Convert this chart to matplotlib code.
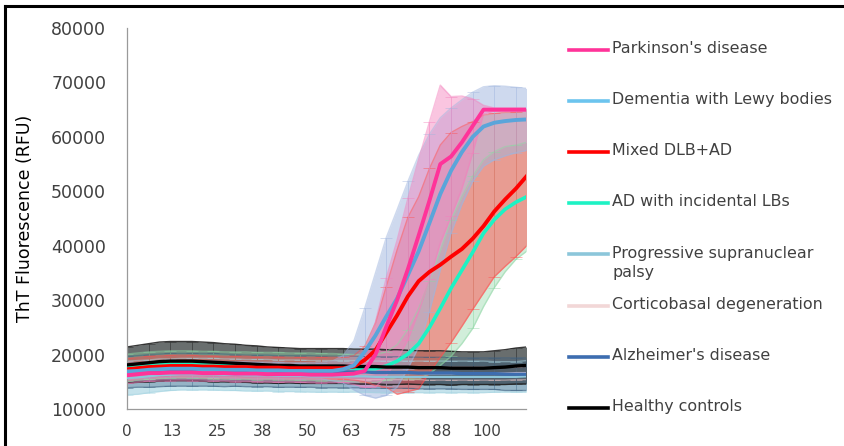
import matplotlib
matplotlib.use("Agg")
import matplotlib.pyplot as plt
from matplotlib.lines import Line2D
import numpy as np

# time grid (every 3 units) shared by all series
time_pts = list(range(0, 112, 3))

pd_mean = [16200, 16400, 16600, 16600, 16700, 16700, 16700, 16600, 16600, 16600, 16500, 16500,
           16500, 16400, 16400, 16400, 16400, 16300, 16300, 16300, 16400, 16500, 17000, 20000,
           25100, 30000, 35700, 41900, 48300, 55000, 56400, 59000, 62000, 65000, 65000, 65000,
           65000, 65000]
pd_sd = [1500, 1500, 1500, 1500, 1500, 1500, 1500, 1500, 1500, 1500, 1500, 1500,
         1500, 1500, 1500, 1500, 1500, 1500, 1500, 1500, 1500, 2000, 3000, 6000,
         9000, 11000, 13000, 14000, 14500, 14500, 11000, 8500, 5000, 800, 300, 300,
         300, 300]

dlb_mean = [16900, 17000, 17200, 17300, 17400, 17400, 17400, 17300, 17300, 17200, 17200, 17200,
            17100, 17100, 17100, 17000, 17000, 17000, 17000, 17000, 17300, 18000, 20500, 23500,
            27000, 30300, 34600, 39000, 44200, 49500, 53800, 57200, 60000, 61900, 62600, 62900,
            63100, 63200]
dlb_sd = [1500, 1500, 1500, 1500, 1500, 1500, 1500, 1500, 1500, 1500, 1500, 1500,
          1500, 1500, 1500, 1500, 1500, 1500, 1500, 1800, 2500, 4500, 8000, 11500,
          14500, 16300, 17200, 17600, 16300, 14000, 11500, 9600, 8200, 7300, 6800, 6400,
          6000, 5700]

mix_mean = [17300, 17500, 17700, 17800, 17900, 17900, 17900, 17800, 17800, 17700, 17700, 17700,
            17600, 17600, 17600, 17500, 17500, 17500, 17500, 17500, 17500, 17800, 19000, 20800,
            24000, 27200, 30700, 33500, 35200, 36500, 38000, 39400, 41300, 43600, 46300, 48500,
            50500, 52800]
mix_err_up = [2000, 2000, 2000, 2000, 2000, 2000, 2000, 2000, 2000, 2000, 2000, 2000,
              2000, 2000, 2000, 2000, 2000, 2000, 2000, 2000, 2000, 2000, 2500, 5000,
              8500, 12000, 14500, 15500, 19000, 22000, 22800, 22500, 21500, 20400, 18000, 16000,
              14000, 12400]
mix_err_down = [2000, 2000, 2000, 2000, 2000, 2000, 2000, 2000, 2000, 2000, 2000, 2000,
                2000, 2000, 2000, 2000, 2000, 2000, 2000, 2000, 2000, 2500, 4000, 6500,
                10000, 14500, 17500, 19800, 18500, 17000, 15800, 14200, 13000, 12300, 12000, 12300,
                12500, 12800]

adlb_mean = [17600, 17800, 18000, 18100, 18200, 18200, 18200, 18100, 18100, 18000, 18000, 18000,
             17900, 17900, 17900, 17800, 17800, 17800, 17700, 17700, 17600, 17500, 17400, 17400,
             17900, 18800, 20100, 22000, 25000, 28500, 32200, 35500, 38800, 42300, 44800, 46700,
             48000, 49000]
adlb_sd = [2500, 2500, 2500, 2500, 2500, 2500, 2500, 2500, 2500, 2500, 2500, 2500,
           2500, 2500, 2500, 2500, 2500, 2500, 2500, 2500, 2500, 2500, 2500, 2500,
           2600, 3000, 4500, 6500, 8500, 10500, 12500, 13500, 14000, 13500, 12500, 11500,
           10500, 10000]

psp_mean = [15700, 15800, 16000, 16200, 16300, 16400, 16400, 16400, 16400, 16300, 16300, 16200,
            16200, 16200, 16100, 16100, 16100, 16000, 16000, 16000, 16000, 16000, 16000, 15900,
            15900, 15900, 15900, 15900, 15900, 15900, 15900, 15900, 15900, 15900, 15900, 15900,
            15900, 16000]
psp_sd = [3100, 3100, 3000, 3000, 2900, 2900, 2900, 2900, 2900, 2900, 2900, 2900,
          2900, 2900, 2900, 2900, 2900, 2900, 2900, 2900, 2900, 2900, 2900, 2900,
          2900, 2900, 2900, 2900, 2900, 2900, 2900, 2900, 2900, 2900, 2800, 2800,
          2800, 2900]

cbd_mean = [16600, 16700, 16800, 16900, 17000, 17000, 17000, 17000, 16900, 16900, 16900, 16800,
            16800, 16800, 16800, 16700, 16700, 16700, 16700, 16700, 16700, 16600, 16600, 16600,
            16600, 16600, 16600, 16600, 16500, 16500, 16500, 16500, 16500, 16500, 16500, 16500,
            16600, 16600]
cbd_sd = [1200, 1200, 1200, 1200, 1200, 1200, 1200, 1200, 1200, 1200, 1200, 1200,
          1200, 1200, 1200, 1200, 1200, 1200, 1200, 1200, 1200, 1200, 1200, 1200,
          1200, 1200, 1200, 1200, 1200, 1200, 1200, 1200, 1200, 1200, 1200, 1200,
          1200, 1200]

ad_mean = [16800, 16900, 17000, 17100, 17200, 17200, 17200, 17200, 17200, 17100, 17100, 17000,
           17000, 17000, 16900, 16900, 16900, 16900, 16800, 16800, 16800, 16800, 16800, 16700,
           16700, 16700, 16700, 16600, 16600, 16600, 16600, 16500, 16500, 16500, 16500, 16400,
           16400, 16400]
ad_sd = [2900, 2900, 3000, 3000, 3000, 3000, 3000, 3000, 3000, 3000, 2900, 2900,
         2900, 2900, 2900, 2900, 2900, 2900, 2900, 2900, 2900, 2900, 2900, 2900,
         2900, 2900, 2900, 2900, 2900, 2900, 2900, 2900, 2900, 2900, 2900, 3000,
         3000, 3000]

hc_mean = [18100, 18300, 18500, 18700, 18800, 18800, 18800, 18700, 18600, 18500, 18400, 18300,
           18200, 18100, 18000, 18000, 17900, 17900, 17900, 17900, 17900, 17800, 17800, 17800,
           17700, 17700, 17700, 17600, 17600, 17600, 17500, 17500, 17500, 17500, 17600, 17700,
           17900, 18000]
hc_sd = [3300, 3400, 3500, 3600, 3600, 3600, 3600, 3600, 3600, 3500, 3500, 3400,
         3400, 3300, 3300, 3200, 3200, 3200, 3200, 3200, 3200, 3200, 3200, 3200,
         3200, 3200, 3100, 3100, 3100, 3100, 3100, 3000, 3000, 3000, 3100, 3200,
         3300, 3400]

labels = ["Parkinson's disease", "Dementia with Lewy bodies", "Mixed DLB+AD",
          "AD with incidental LBs", "Progressive supranuclear\npalsy",
          "Corticobasal degeneration", "Alzheimer's disease", "Healthy controls"]
means = [pd_mean, dlb_mean, mix_mean, adlb_mean, psp_mean, cbd_mean, ad_mean, hc_mean]
err_lo = [pd_sd, dlb_sd, mix_err_down, adlb_sd, psp_sd, cbd_sd, ad_sd, hc_sd]
err_hi = [pd_sd, dlb_sd, mix_err_up, adlb_sd, psp_sd, cbd_sd, ad_sd, hc_sd]

line_cols = ["#FF3399", "#5AA5DA", "#FF0000", "#1DF2C4", "#8CC6DA", "#F2D7D7", "#3D6DB0", "#000000"]
legend_cols = ["#FF3399", "#6CC4EE", "#FF0000", "#1DF2C4", "#8CC6DA", "#F2D7D7", "#3D6DB0", "#000000"]
band_cols = ["#F47FBC", "#9FB5DE", "#FF4C4C", "#8ED6A4", "#A6D5E2", "#F0C8C8", "#3E5F7F", "#2A3030"]
band_alpha = [0.45, 0.50, 0.50, 0.40, 0.65, 0.40, 0.35, 0.70]
line_w = [2.8, 2.8, 2.8, 2.6, 1.6, 1.6, 2.4, 2.4]

fig = plt.figure(figsize=(8.44, 4.46), dpi=100)
ax = fig.add_axes([127 / 844, 1 - 409 / 446, (526 - 127) / 844, (409 - 28) / 446])

t = np.array(time_pts)
# bands + error bars, back to front
draw_order = [4, 5, 7, 6, 3, 2, 1, 0]
for i in draw_order:
    m = np.array(means[i])
    lo = m - np.array(err_lo[i])
    hi = m + np.array(err_hi[i])
    ax.fill_between(t, lo, hi, color=band_cols[i], alpha=band_alpha[i], lw=0, zorder=1)
    ecol = "#222222" if i == 7 else band_cols[i]
    ax.errorbar(t, m, yerr=[err_lo[i], err_hi[i]], fmt="none", ecolor=ecol,
                elinewidth=0.7, capsize=4, capthick=0.6, alpha=0.5, errorevery=2, zorder=2)
    edge_a = 0.9 if i == 7 else 0.5
    ax.plot(t, lo, color=ecol, lw=1.0, alpha=edge_a, zorder=2)
    ax.plot(t, hi, color=ecol, lw=1.0, alpha=edge_a, zorder=2)

line_order = [5, 4, 6, 3, 7, 2, 1, 0]
for k, i in enumerate(line_order):
    ax.plot(t, means[i], color=line_cols[i], lw=line_w[i], zorder=3 + k)

ax.set_xlim(0, 110.8)
ax.set_ylim(10000, 80000)
ax.set_yticks([10000, 20000, 30000, 40000, 50000, 60000, 70000, 80000])
ax.set_xticks([0, 12.5, 25, 37.5, 50, 62.5, 75, 87.5, 100])
ax.set_xticklabels(["0", "13", "25", "38", "50", "63", "75", "88", "100"])
ax.tick_params(axis="both", length=0, colors="#404040")
ax.tick_params(axis="y", labelsize=12.5, pad=15)
ax.tick_params(axis="x", labelsize=11, pad=11)
for s in ["top", "right"]:
    ax.spines[s].set_visible(False)
for s in ["left", "bottom"]:
    ax.spines[s].set_color("#9a9a9a")
    ax.spines[s].set_linewidth(0.9)
ax.set_ylabel("ThT Fluorescence (RFU)", fontsize=12.5, color="#000000")
ax.yaxis.set_label_coords(-0.232, 0.5)

# legend on the right, evenly spaced like the original
W, H = 844, 446
for i, lab in enumerate(labels):
    yc = 50 + i * 51.1
    fig.add_artist(Line2D([569 / W, 608 / W], [1 - yc / H, 1 - yc / H],
                          color=legend_cols[i], lw=2.6))
    fig.text(612 / W, 1 - (yc - 8.8) / H, lab, fontsize=11.4, color="#404040",
             va="top", ha="left", linespacing=1.4)

# frame lines at top and left edge
fig.add_artist(Line2D([4.5 / W, 1], [1 - 6 / H, 1 - 6 / H], color="black", lw=2.2))
fig.add_artist(Line2D([4.5 / W, 4.5 / W], [0, 1 - 6 / H], color="black", lw=2.2))

fig.savefig("out.png", dpi=100)
